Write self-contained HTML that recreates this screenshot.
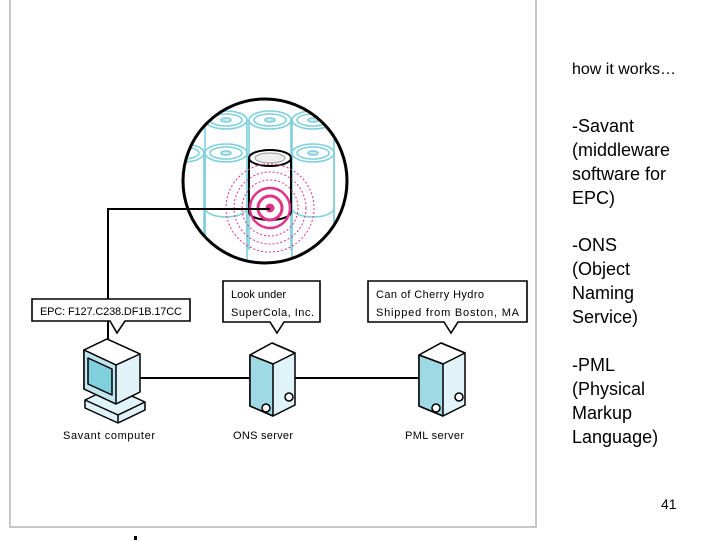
<!DOCTYPE html>
<html><head><meta charset="utf-8"><style>
body{margin:0;width:720px;height:540px;background:#fff;overflow:hidden;position:relative;font-family:"Liberation Sans",sans-serif}
.r{position:absolute;left:572px;font-size:18px;line-height:24px;color:#000}
</style></head><body>
<svg width="720" height="540" style="position:absolute;left:0;top:0">
<rect x="10" y="-2" width="526" height="529" fill="none" stroke="#c8c8c8" stroke-width="2"/>
<defs><clipPath id="c"><circle cx="265" cy="181" r="82"/></clipPath></defs>
<g clip-path="url(#c)" stroke="#7fd0dc" stroke-width="1.6" fill="none">
 <g id="can"><ellipse cx="0" cy="0" rx="21" ry="9"/><ellipse cx="0" cy="0" rx="16" ry="6"/><ellipse cx="0" cy="0" rx="5" ry="2" fill="#cfe9ee"/><line x1="-21" y1="0" x2="-21" y2="130"/><line x1="21" y1="0" x2="21" y2="130"/></g>
 <use href="#can" x="226" y="120"/><use href="#can" x="270" y="120"/><use href="#can" x="313" y="120"/>
 <use href="#can" x="183" y="153"/><use href="#can" x="226" y="153"/><use href="#can" x="313" y="153"/>
 <path d="M205 208 a21 9 0 0 0 42 0 M292 208 a21 9 0 0 0 42 0"/>
</g>
<g fill="#fff" stroke="#000" stroke-width="2"><path d="M249 158 L249 212 A21 8 0 0 0 291 212 L291 158"/><ellipse cx="270" cy="158" rx="21" ry="8"/></g>
<ellipse cx="270" cy="158" rx="15" ry="5" fill="#eee" stroke="#999"/>
<g fill="none" stroke="#e0338a">
 <circle cx="270" cy="208" r="44" stroke-width="1" stroke-dasharray="2 2"/>
 <circle cx="270" cy="208" r="36" stroke-width="1" stroke-dasharray="2 2"/>
 <circle cx="270" cy="208" r="28" stroke-width="1" stroke-dasharray="2 2"/>
 <circle cx="270" cy="208" r="20" stroke-width="2.5"/>
 <circle cx="270" cy="208" r="12" stroke-width="3"/>
 <circle cx="270" cy="208" r="4" fill="#e0338a"/>
</g>
<circle cx="265" cy="181" r="82" fill="none" stroke="#000" stroke-width="3"/>
<path d="M270 209 H108 V345" fill="none" stroke="#000" stroke-width="2"/>
<line x1="140" y1="378" x2="420" y2="378" stroke="#000" stroke-width="2"/>
<g stroke="#000" stroke-width="1.6" font-family="Liberation Sans Narrow, Liberation Sans, sans-serif" font-size="11">
 <path d="M32 299 H190 V321 H125 L117 333 L110 321 H32Z" fill="#fff"/>
 <path d="M223 281 H320 V322 H284 L277 333 L270 322 H223Z" fill="#fff"/>
 <path d="M368 281 H527 V322 H458 L451 333 L444 322 H368Z" fill="#fff"/>
 <text x="40" y="315" stroke="none" textLength="142">EPC: F127.C238.DF1B.17CC</text>
 <text x="231" y="298" stroke="none">Look under</text>
 <text x="231" y="316" stroke="none" textLength="83">SuperCola, Inc.</text>
 <text x="376" y="298" stroke="none" textLength="108">Can of Cherry Hydro</text>
 <text x="376" y="316" stroke="none" textLength="143">Shipped from Boston, MA</text>
 <text x="63" y="439" stroke="none" textLength="92">Savant computer</text>
 <text x="233" y="439" stroke="none" textLength="60">ONS server</text>
 <text x="405" y="439" stroke="none" textLength="59">PML server</text>
</g>
<g stroke="#000" stroke-width="1.5" stroke-linejoin="round">
 <path d="M85 400 L112 387 L145 402 L145 410 L118 423 L85 408Z" fill="#dff3f8"/>
 <path d="M85 400 L118 415 L145 402" fill="none"/>
 <path d="M118 415 L118 423" fill="none"/>
 <path d="M84 350 L107 339 L140 354 L140 392 L116 404 L84 389Z" fill="#dff3f8"/>
 <path d="M84 350 L107 339 L140 354 L116 365Z" fill="#fff"/>
 <path d="M84 350 L116 365 L116 404 L84 389Z" fill="#bfe6ee"/>
 <path d="M88 358 L112 369 L112 395 L88 384Z" fill="#7fd0dc"/>
 <path d="M250 355 L272 343 L295 353 L295 405 L273 416 L250 406Z" fill="#dff3f8"/>
 <path d="M250 355 L272 343 L295 353 L273 364Z" fill="#fff"/>
 <path d="M250 355 L273 364 L273 416 L250 406Z" fill="#9ed9e4"/>
 <circle cx="266" cy="408" r="4" fill="#fff"/><circle cx="289" cy="397" r="4" fill="#fff"/>
 <path d="M419 355 L441 343 L465 353 L465 405 L443 416 L419 406Z" fill="#dff3f8"/>
 <path d="M419 355 L441 343 L465 353 L443 364Z" fill="#fff"/>
 <path d="M419 355 L443 364 L443 416 L419 406Z" fill="#9ed9e4"/>
 <circle cx="436" cy="408" r="4" fill="#fff"/><circle cx="459" cy="397" r="4" fill="#fff"/>
</g>
<rect x="134" y="536" width="3" height="4" fill="#000"/>
</svg>
<div class="r" style="top:58px;font-size:16px">how it works…</div>
<div class="r" style="top:114px">-Savant<br>(middleware<br>software for<br>EPC)</div>
<div class="r" style="top:233px">-ONS<br>(Object<br>Naming<br>Service)</div>
<div class="r" style="top:353px">-PML<br>(Physical<br>Markup<br>Language)</div>
<div style="position:absolute;left:661px;top:496px;font-size:14px">41</div>
</body></html>
